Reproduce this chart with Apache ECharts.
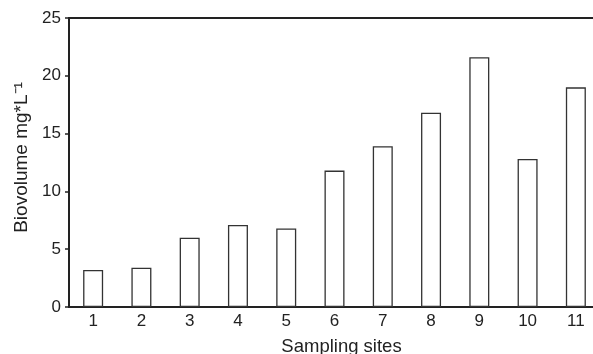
<!DOCTYPE html>
<html>
<head>
<meta charset="utf-8">
<script src="https://cdn.jsdelivr.net/npm/echarts@6/dist/echarts.min.js"></script>
<style>
html,body{margin:0;padding:0;background:#fff;}
#c{width:593px;height:354px;}
</style>
</head>
<body>
<div id="c"></div>
<script>
const categories = ['1','2','3','4','5','6','7','8','9','10','11'];
const biovolume = [3.2, 3.4, 6.0, 7.1, 6.8, 11.8, 13.9, 16.8, 21.6, 12.8, 19.0];
const yTicks = [0, 5, 10, 15, 20, 25];

const FONT = 'Liberation Sans, Arial, Helvetica, sans-serif';
const chart = echarts.init(document.getElementById('c'));
chart.setOption({
  animation: false,
  backgroundColor: '#fff',
  grid: { left: 69, top: 18, height: 289, width: 531, containLabel: false, outerBoundsMode: 'none' },
  xAxis: [{
    type: 'category',
    data: categories,
    position: 'bottom',
    name: 'Sampling sites',
    nameLocation: 'middle',
    nameGap: 30,
    nameTextStyle: { fontFamily: FONT, fontSize: 18.5, color: '#222', padding: [0, 0, 0, 14] },
    axisLine: { show: true, lineStyle: { color: '#222', width: 2 } },
    axisTick: { show: false },
    axisLabel: { fontFamily: FONT, fontSize: 17, color: '#222', margin: 6 },
    splitLine: { show: false }
  }, {
    type: 'category',
    data: categories,
    position: 'top',
    axisLine: { show: true, lineStyle: { color: '#222', width: 2 } },
    axisTick: { show: false },
    axisLabel: { show: false },
    splitLine: { show: false }
  }],
  yAxis: {
    type: 'value',
    min: yTicks[0],
    max: yTicks[yTicks.length - 1],
    interval: 5,
    name: 'Biovolume mg*L\u207B\u00B9',
    nameLocation: 'middle',
    nameGap: 37,
    nameTextStyle: { fontFamily: FONT, fontSize: 19, color: '#222', padding: [0, 0, 0, 10] },
    axisLine: { show: true, lineStyle: { color: '#222', width: 2 } },
    axisTick: { show: true, inside: false, length: 4, lineStyle: { color: '#222', width: 1.5 } },
    axisLabel: { fontFamily: FONT, fontSize: 17, color: '#222', margin: 8 },
    splitLine: { show: false }
  },
  series: [{
    type: 'bar',
    xAxisIndex: 0,
    data: biovolume,
    barWidth: 20,
    itemStyle: { color: '#fff', borderColor: '#333', borderWidth: 1.3 },
    z: 1
  }]
});
</script>
</body>
</html>
